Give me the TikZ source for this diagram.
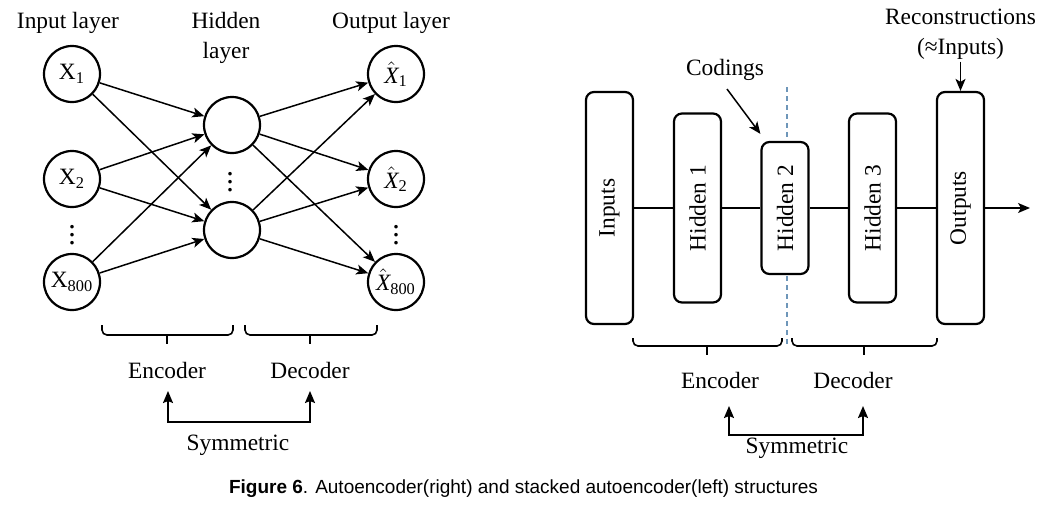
\documentclass[tikz,border=0pt]{standalone}
\usepackage{fontspec}
\setmainfont{Liberation Serif}
\newfontfamily\capfont{Liberation Sans}
\usetikzlibrary{arrows.meta,positioning}

\definecolor{cutblue}{RGB}{110,150,185}

\begin{document}
\begin{tikzpicture}[
        x=0.5pt, y=-0.5pt, % one unit = one pixel of the layout
        lbl/.style = {font=\fontsize{11.7}{15}\selectfont, inner sep=1pt, align=center}, % plain labels
        dots/.style = {font=\fontsize{15}{15}\selectfont, inner sep=0pt},
        neuron/.style = {circle, draw, line width=1.1pt, minimum size=28pt, inner sep=0pt,
                font=\fontsize{11.7}{14}\selectfont}, % units of the network
        layerbox/.style = {draw, line width=1.1pt, rounded corners=4pt, fill=white, rotate=90,
                minimum height=23.5pt, inner sep=0pt, font=\fontsize{11.7}{14}\selectfont}, % layers
        conn/.style = {line width=0.75pt, -{Stealth[length=6pt,width=5pt,inset=1.5pt]}},
        link/.style = {line width=0.75pt},
        brace/.style = {line width=0.8pt, rounded corners=2.5pt},
        symarrow/.style = {line width=0.9pt, {Stealth[length=6pt,width=5pt,inset=1pt]}-{Stealth[length=6pt,width=5pt,inset=1pt]}},
        cut/.style = {cutblue, line width=0.7pt, dash pattern=on 2.5pt off 2pt},
    ]
    \useasboundingbox (0,0) rectangle (1049,520);

    % ---------- stacked autoencoder (left) ----------
    \node[lbl] (inTitle) at (68,23) {Input layer};
    \node[lbl] (hidTitle) at (226,38) {Hidden\\layer};
    \node[lbl] (outTitle) at (391,23) {Output layer};

    \node[neuron] (in1) at (72,74) {X\textsubscript{1}};
    \node[neuron] (in2) at (72,179) {X\textsubscript{2}};
    \node[neuron] (in3) at (72,282) {X\textsubscript{800}};
    \node[dots] (inDots) at (72,229) {$\vdots$};

    \node[neuron] (hid1) at (232,125) {};
    \node[neuron] (hid2) at (232,230) {};
    \node[dots] (hidDots) at (230,176) {$\vdots$};

    \node[neuron] (out1) at (396,74) {$\hat{\textit{X}}$\textsubscript{1}};
    \node[neuron] (out2) at (396,179) {$\hat{\textit{X}}$\textsubscript{2}};
    \node[neuron] (out3) at (396,282) {$\hat{\textit{X}}$\textsubscript{800}};
    \node[dots] (outDots) at (396,229) {$\vdots$};

    \foreach \a in {in1,in2,in3}
        \foreach \b in {hid1,hid2}
            \draw[conn] (\a) -- (\b);
    \foreach \a in {hid1,hid2}
        \foreach \b in {out1,out2,out3}
            \draw[conn] (\a) -- (\b);

    \draw[brace] (102,325) |- (233,335) -- (233,325);
    \draw[brace] (167,335) -- (167,344);
    \draw[brace] (245,325) |- (377,335) -- (377,325);
    \draw[brace] (310,335) -- (310,344);

    \node[lbl] (encL) at (167,370) {Encoder};
    \node[lbl] (decL) at (310,370) {Decoder};
    \coordinate (symTipL) at (168,391);
    \coordinate (symTipR) at (310,391);
    \draw[symarrow] (symTipL) |- (310,422) -- (symTipR);
    \node[lbl] (symL) at (238,445) {Symmetric};

    % ---------- autoencoder (right) ----------
    \coordinate (cutTop) at (787,87);
    \coordinate (cutBot) at (787,345);
    \draw[cut] (cutTop) -- (cutBot);

    \node[layerbox, minimum width=116pt] (inp) at (609.5,208) {Inputs};
    \node[layerbox, minimum width=94.5pt] (h1) at (697.5,208) {Hidden 1};
    \node[layerbox, minimum width=66pt] (h2) at (785,208) {Hidden 2};
    \node[layerbox, minimum width=94.5pt] (h3) at (872.5,208) {Hidden 3};
    \node[layerbox, minimum width=116pt] (outp) at (960.5,208) {Outputs};
    \coordinate (outEnd) at (1030,208);

    \draw[link] (inp) -- (h1);
    \draw[link] (h1) -- (h2);
    \draw[link] (h2) -- (h3);
    \draw[link] (h3) -- (outp);
    \draw[conn] (outp) -- (outEnd);

    \node[lbl] (codings) at (725,70) {Codings};
    \draw[conn] ([shift={(1pt,-3pt)}]codings.south) -- ([yshift=3.5pt]h2.north east);
    \node[lbl] (recon) at (960.5,34) {Reconstructions\\(≈Inputs)};
    \draw[conn] (recon.south) -- (outp.east);

    \draw[brace] (633,338) |- (782,346) -- (782,338);
    \draw[brace] (707,346) -- (707,355);
    \draw[brace] (792,338) |- (937,346) -- (937,338);
    \draw[brace] (864,346) -- (864,355);

    \node[lbl] (encR) at (720,380) {Encoder};
    \node[lbl] (decR) at (853,380) {Decoder};
    \coordinate (symTipRL) at (729,406);
    \coordinate (symTipRR) at (863,406);
    \draw[symarrow] (symTipRL) |- (863,435) -- (symTipRR);
    \node[lbl] (symR) at (797,448) {Symmetric};

    % ---------- caption ----------
    \node[font=\capfont\fontsize{9.5}{11}\selectfont, inner sep=0pt] (caption) at (523.5,489)
        {\textbf{Figure 6}. Autoencoder(right) and stacked autoencoder(left) structures};
\end{tikzpicture}
\end{document}
